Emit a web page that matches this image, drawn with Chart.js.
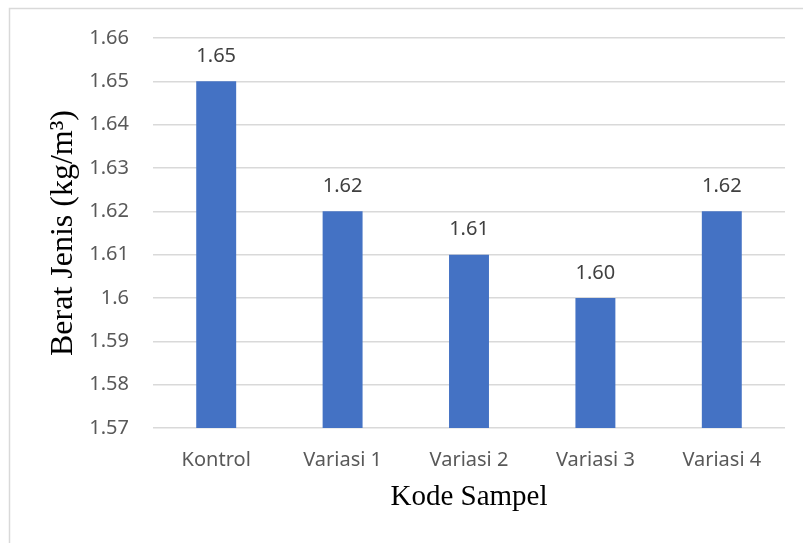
<!DOCTYPE html>
<html>
<head>
<meta charset="utf-8">
<script src="https://cdn.jsdelivr.net/npm/chart.js@4/dist/chart.umd.min.js"></script>
<style>
  html, body { margin: 0; padding: 0; background: #ffffff; }
  #wrap { position: relative; width: 803px; height: 543px; }
</style>
</head>
<body>
<div id="wrap"><canvas id="chart" width="803" height="543"></canvas></div>
<script>
const categories = ["Kontrol", "Variasi 1", "Variasi 2", "Variasi 3", "Variasi 4"];
const beratJenis = [1.65, 1.62, 1.61, 1.60, 1.62];
const yMin = 1.57;
const yMax = 1.66;
const yStep = 0.01;

// Light frame along the top and left edges of the chart box
const framePlugin = {
  id: 'frame',
  beforeDraw(chart) {
    const ctx = chart.ctx;
    ctx.save();
    ctx.strokeStyle = '#d9d9d9';
    ctx.lineWidth = 1.5;
    ctx.beginPath();
    ctx.moveTo(9.5, 543);
    ctx.lineTo(9.5, 8.5);
    ctx.lineTo(803, 8.5);
    ctx.stroke();
    ctx.restore();
  }
};

// Value printed above each bar
const valueLabels = {
  id: 'valueLabels',
  afterDatasetsDraw(chart) {
    const ctx = chart.ctx;
    const meta = chart.getDatasetMeta(0);
    ctx.save();
    ctx.font = '20px "Noto Sans", "Open Sans", sans-serif';
    ctx.fillStyle = '#404040';
    ctx.textAlign = 'center';
    ctx.textBaseline = 'middle';
    meta.data.forEach((bar, i) => {
      const v = chart.data.datasets[0].data[i];
      ctx.fillText(v.toFixed(2), bar.x, bar.y - 25);
    });
    ctx.restore();
  }
};

new Chart(document.getElementById('chart'), {
  type: 'bar',
  data: {
    labels: categories,
    datasets: [{
      data: beratJenis,
      backgroundColor: '#4472C4',
      borderWidth: 0,
      categoryPercentage: 1,
      barPercentage: 0.316
    }]
  },
  options: {
    responsive: false,
    animation: false,
    layout: { padding: { left: 0, right: 18, top: 38, bottom: 0 } },
    plugins: {
      legend: { display: false },
      tooltip: { enabled: false }
    },
    scales: {
      x: {
        grid: { display: false, drawTicks: false },
        border: { display: false },
        ticks: {
          color: '#595959',
          font: { family: '"Noto Sans", "Open Sans", sans-serif', size: 20 },
          padding: 20,
          maxRotation: 0
        },
        title: {
          display: true,
          text: 'Kode Sampel',
          color: '#000000',
          font: { family: '"Liberation Serif", "Times New Roman", serif', size: 29 },
          padding: { top: 0, bottom: 28 }
        },
        afterFit(scale) { scale.height = 115; }
      },
      y: {
        min: yMin,
        max: yMax,
        grid: { color: '#d9d9d9', lineWidth: 1.5, drawTicks: false },
        border: { display: false },
        ticks: {
          stepSize: yStep,
          color: '#595959',
          font: { family: '"Noto Sans", "Open Sans", sans-serif', size: 20 },
          padding: 24,
          callback: (v) => String(Number(v.toFixed(2)))
        },
        title: {
          display: true,
          text: 'Berat Jenis (kg/m³)',
          color: '#000000',
          font: { family: '"Liberation Serif", "Times New Roman", serif', size: 32 },
          padding: { top: 44, bottom: 0 }
        },
        afterFit(scale) { scale.width = 153; }
      }
    }
  },
  plugins: [framePlugin, valueLabels]
});
</script>
</body>
</html>
